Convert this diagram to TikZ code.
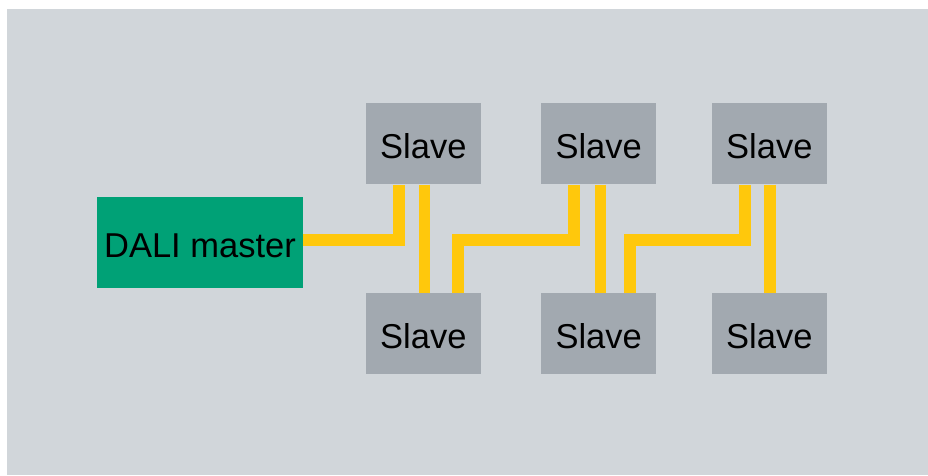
\documentclass[tikz,border=0pt]{standalone}
\usepackage{fontspec}
\setmainfont{Liberation Sans}
\definecolor{bgc}{HTML}{D1D6DA}
\definecolor{slavec}{HTML}{A2A9B0}
\definecolor{masterc}{HTML}{00A176}
\definecolor{wirec}{HTML}{FFC80C}
\begin{document}
\begin{tikzpicture}[x=1pt,y=-1pt,
  slave/.style={fill=slavec,draw=none,minimum width=114.7pt,minimum height=81pt,inner sep=0pt,text height=30pt,text depth=0pt,font=\fontsize{34.5}{40}\selectfont},
  master/.style={fill=masterc,draw=none,minimum width=205.4pt,minimum height=91pt,inner sep=0pt,text height=29pt,text depth=0pt,font=\fontsize{34.5}{40}\selectfont},
  wire/.style={draw=wirec,line width=11.5pt,line join=miter}]
\useasboundingbox (0,0) rectangle (928,475);
\fill[white] (0,0) rectangle (928,475);
\fill[bgc] (7,9) rectangle (928,475);
\node[master] (m) at (200,242.8) {DALI master};
\node[slave] (t1) at (423.3,143.8) {Slave};
\node[slave] (t2) at (598.7,143.8) {Slave};
\node[slave] (t3) at (769.3,143.8) {Slave};
\node[slave] (b1) at (423.3,333.8) {Slave};
\node[slave] (b2) at (598.7,333.8) {Slave};
\node[slave] (b3) at (769.3,333.8) {Slave};
\draw[wire] (m.east |- 0,240) -| (t1.south -| 399,0);
\draw[wire] (t1.south -| 424.5,0) -- (b1.north -| 424.5,0);
\draw[wire] (b1.north -| 458,0) |- (574,240) -- (t2.south -| 574,0);
\draw[wire] (t2.south -| 600.5,0) -- (b2.north -| 600.5,0);
\draw[wire] (b2.north -| 630,0) |- (745,240) -- (t3.south -| 745,0);
\draw[wire] (t3.south -| 770,0) -- (b3.north -| 770,0);
\end{tikzpicture}
\end{document}
